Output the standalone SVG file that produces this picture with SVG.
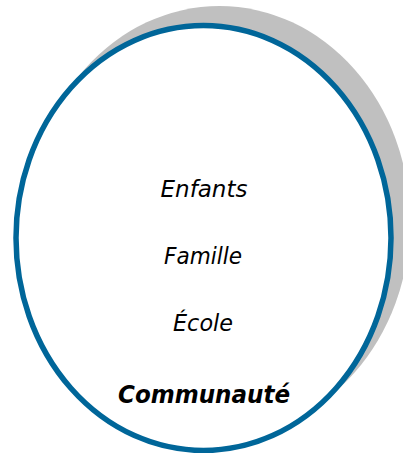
<svg xmlns="http://www.w3.org/2000/svg" width="403" height="453" viewBox="0 0 403 453">
<style>
.lbl{font-family:"Comic Sans MS","DejaVu Sans",sans-serif;font-style:italic;font-size:23px;fill:#000;text-anchor:middle}
.bold{font-weight:bold;font-size:24px}
</style>
<rect width="403" height="453" fill="#fff"/>
<g id="circle">
<ellipse cx="219.5" cy="221" rx="190.5" ry="215" fill="#c0c0c0"/>
<ellipse cx="203.5" cy="238" rx="187.5" ry="212.5" fill="#fff" stroke="#006699" stroke-width="5.5"/>
</g>
<g id="enfants"><text class="lbl" x="204" y="197" textLength="87" lengthAdjust="spacingAndGlyphs">Enfants</text></g>
<g id="famille"><text class="lbl" x="203" y="264" textLength="78" lengthAdjust="spacingAndGlyphs">Famille</text></g>
<g id="ecole"><text class="lbl" x="203" y="331" textLength="60" lengthAdjust="spacingAndGlyphs">École</text></g>
<g id="communaute"><text class="lbl bold" x="204" y="403" textLength="172" lengthAdjust="spacingAndGlyphs">Communauté</text></g>
<g id="connectors"></g>
</svg>
